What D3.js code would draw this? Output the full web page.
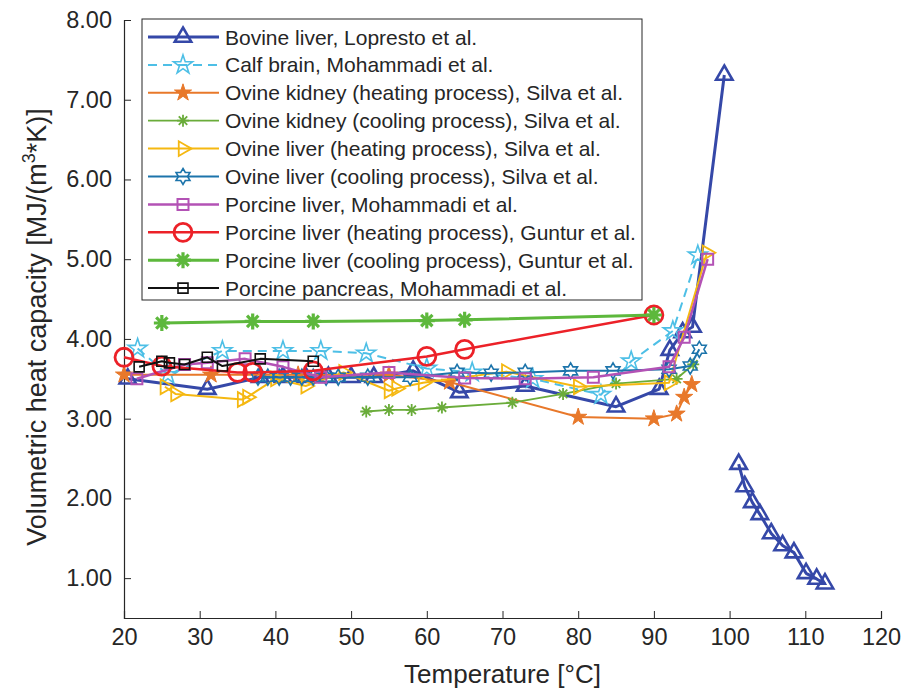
<!DOCTYPE html>
<html>
<head>
<meta charset="utf-8">
<script src="https://cdn.jsdelivr.net/npm/d3@7"></script>
<style>
  body { margin: 0; background: #fff; }
  text { font-family: "Liberation Sans", Arial, Helvetica, sans-serif; fill: #262626; }
</style>
</head>
<body>
<svg id="chart" width="903" height="690"></svg>
<script>
'use strict';

// tick values
var xTicks = [20, 30, 40, 50, 60, 70, 80, 90, 100, 110, 120];
var yTicks = [1, 2, 3, 4, 5, 6, 7, 8];

// series, [temperature, MJ/(m3*K)]
var bovineLiver = [[20.5, 3.50], [31, 3.37], [38, 3.52], [41, 3.52], [44, 3.52], [47, 3.52], [50, 3.52],
  [53, 3.52], [58.2, 3.60], [64.3, 3.33], [73, 3.41], [85, 3.15], [90.7, 3.37], [92.1, 3.86], [93.8, 4.08],
  [95.1, 4.15], [99.3, 7.31]];
var bovineLiverTail = [[101.2, 2.43], [102, 2.15], [103, 1.95], [104, 1.80], [105.5, 1.56], [107, 1.41],
  [108.5, 1.32], [110.1, 1.06], [111.5, 0.99], [112.6, 0.93]];
var calfBrain = [[21.8, 3.88], [25.8, 3.55], [33, 3.85], [41, 3.85], [46, 3.85], [52, 3.82], [60, 3.63],
  [66, 3.58], [74, 3.50], [83, 3.30], [87, 3.72], [92.5, 4.10], [95.8, 5.05]];
var ovineKidneyHeating = [[20, 3.55], [31.5, 3.55], [43, 3.55], [55, 3.55], [63, 3.46], [80, 3.02],
  [90, 3.00], [93, 3.06], [94, 3.27], [95, 3.43]];
var ovineKidneyCooling = [[52, 3.09], [55, 3.11], [58, 3.11], [62, 3.14], [71.3, 3.20], [78, 3.31],
  [85, 3.44], [93, 3.50], [95.2, 3.68]];
var ovineLiverHeating = [[25.4, 3.40], [26.8, 3.31], [35.6, 3.24], [36.3, 3.27], [40, 3.50], [44, 3.41],
  [49, 3.58], [55, 3.35], [56, 3.38], [59.5, 3.45], [70.5, 3.59], [80, 3.40], [92, 3.45], [97, 5.08]];
var ovineLiverCooling = [[37.7, 3.52], [39, 3.52], [40.5, 3.52], [42, 3.52], [43.5, 3.52], [45, 3.52],
  [46.7, 3.52], [48.3, 3.52], [52.2, 3.52], [57.8, 3.52], [64, 3.58], [68.5, 3.57], [73, 3.58], [79, 3.60],
  [84.6, 3.60], [92, 3.62], [94.8, 3.66], [96, 3.87]];
var porcineLiverMoh = [[21.7, 3.50], [28, 3.68], [31, 3.70], [36, 3.75], [41, 3.65], [46, 3.52], [55, 3.58],
  [65, 3.51], [73, 3.50], [82, 3.52], [92, 3.65], [94, 4.02], [97.1, 5.00]];
var porcineLiverHeating = [[20, 3.77], [25, 3.66], [35, 3.58], [37, 3.58], [45, 3.60], [60, 3.78],
  [65, 3.87], [90, 4.30]];
var porcineLiverCooling = [[25, 4.20], [37, 4.22], [45, 4.22], [60, 4.23], [65, 4.24], [90, 4.30]];
var porcinePancreas = [[22, 3.65], [25, 3.72], [26, 3.70], [28, 3.68], [31, 3.77], [33, 3.66], [38, 3.75],
  [45, 3.72]];

var labels = ['Bovine liver, Lopresto et al.', 'Calf brain, Mohammadi et al.',
  'Ovine kidney (heating process), Silva et al.', 'Ovine kidney (cooling process), Silva et al.',
  'Ovine liver (heating process), Silva et al.', 'Ovine liver (cooling process), Silva et al.',
  'Porcine liver, Mohammadi et al.', 'Porcine liver (heating process), Guntur et al.',
  'Porcine liver (cooling process), Guntur et al.', 'Porcine pancreas, Mohammadi et al.'];

var series = [
  {parts: [bovineLiver, bovineLiverTail], color: '#3548a8', lw: 3, marker: 'triangle', ms: 9.5, mw: 2.6},
  {parts: [calfBrain], color: '#4dbfe6', lw: 2, dash: '9,6', marker: 'pentagram', ms: 10, mw: 1.6},
  {parts: [ovineKidneyHeating], color: '#e8782a', lw: 2, marker: 'pentagram', ms: 9, mw: 1, fill: true},
  {parts: [ovineKidneyCooling], color: '#6aac3a', lw: 1.8, marker: 'asterisk', ms: 6, mw: 1.8},
  {parts: [ovineLiverHeating], color: '#f5b811', lw: 2, marker: 'right', ms: 8.5, mw: 1.8},
  {parts: [ovineLiverCooling], color: '#1c74ab', lw: 2, marker: 'hexagram', ms: 8, mw: 1.6},
  {parts: [porcineLiverMoh], color: '#b352b5', lw: 2.5, marker: 'square', ms: 5.5, mw: 2},
  {parts: [porcineLiverHeating], color: '#ec2128', lw: 2.5, marker: 'circle', ms: 9, mw: 2.8},
  {parts: [porcineLiverCooling], color: '#5db83c', lw: 3, marker: 'asterisk', ms: 8, mw: 3.2},
  {parts: [porcinePancreas], color: '#111111', lw: 2, marker: 'square', ms: 5, mw: 1.6}
];

var margin = {left: 124, top: 20, right: 22, bottom: 72};
var W = 903, H = 690;

var svg = d3.select('#chart');

var x = d3.scaleLinear().domain([20, 120]).range([margin.left, W - margin.right]);
var y = d3.scaleLinear().domain([0.5, 8]).range([H - margin.bottom, margin.top]);

// marker shapes
function starPath(n, ro, ri, rot) {
  var pts = [];
  for (var k = 0; k < 2 * n; k++) {
    var r = k % 2 ? ri : ro;
    var a = rot + k * Math.PI / n;
    pts.push([r * Math.sin(a), -r * Math.cos(a)]);
  }
  return 'M' + pts.map(function (p) { return p[0].toFixed(2) + ',' + p[1].toFixed(2); }).join('L') + 'Z';
}
function markerPath(type, s) {
  if (type === 'triangle') return starPath(3, s, s * 0.5, 0);
  if (type === 'right') return starPath(3, s, s * 0.5, Math.PI / 2);
  if (type === 'pentagram') return starPath(5, s, s * 0.382, 0);
  if (type === 'hexagram') return starPath(6, s, s * 0.577, 0);
  if (type === 'square') return 'M' + (-s) + ',' + (-s) + 'H' + s + 'V' + s + 'H' + (-s) + 'Z';
  if (type === 'circle') return d3.symbol(d3.symbolCircle, Math.PI * s * s)();
  if (type === 'asterisk') {
    var d = '', h = s * 0.7071;
    d += 'M' + (-s) + ',0H' + s + 'M0,' + (-s) + 'V' + s;
    d += 'M' + (-h) + ',' + (-h) + 'L' + h + ',' + h + 'M' + (-h) + ',' + h + 'L' + h + ',' + (-h);
    return d;
  }
}

// axes
var xAxis = d3.axisBottom(x).tickValues(xTicks).tickSize(-7).tickPadding(10).tickFormat(d3.format('d'));
var yAxis = d3.axisLeft(y).tickValues(yTicks).tickSize(-7).tickPadding(12).tickFormat(d3.format('.2f'));

var gx = svg.append('g').attr('transform', 'translate(0,' + y.range()[0] + ')').call(xAxis);
var gy = svg.append('g').attr('transform', 'translate(' + x.range()[0] + ',0)').call(yAxis);
[gx, gy].forEach(function (g) {
  g.select('.domain').attr('stroke', '#262626').attr('stroke-width', 1.2);
  g.selectAll('.tick line').attr('stroke', '#262626').attr('stroke-width', 1);
  g.selectAll('.tick text').attr('font-size', '23.5px').attr('fill', '#262626')
    .style('font-family', '"Liberation Sans", Arial, sans-serif');
});

// axis titles
svg.append('text')
  .attr('x', (x.range()[0] + x.range()[1]) / 2)
  .attr('y', 683)
  .attr('text-anchor', 'middle')
  .attr('font-size', '26px')
  .text('Temperature [\u00b0C]');

var yt = svg.append('text')
  .attr('transform', 'translate(46,' + ((y.range()[0] + y.range()[1]) / 2 + 8) + ') rotate(-90)')
  .attr('text-anchor', 'middle')
  .attr('font-size', '27px');
yt.append('tspan').text('Volumetric heat capacity [MJ/(m');
yt.append('tspan').attr('font-size', '18px').attr('dy', -11).text('3');
yt.append('tspan').attr('dy', 11).text('*K)]');

// lines and markers
var line = d3.line().x(function (d) { return x(d[0]); }).y(function (d) { return y(d[1]); });

series.forEach(function (s) {
  var g = svg.append('g');
  s.parts.forEach(function (pts) {
    g.append('path')
      .datum(pts)
      .attr('d', line)
      .attr('fill', 'none')
      .attr('stroke', s.color)
      .attr('stroke-width', s.lw)
      .attr('stroke-dasharray', s.dash || null)
      .attr('stroke-linejoin', 'round');
    g.selectAll(null)
      .data(pts)
      .enter()
      .append('path')
      .attr('transform', function (d) { return 'translate(' + x(d[0]) + ',' + y(d[1]) + ')'; })
      .attr('d', markerPath(s.marker, s.ms))
      .attr('fill', s.fill ? s.color : 'none')
      .attr('stroke', s.color)
      .attr('stroke-width', s.mw)
      .attr('stroke-linejoin', 'miter');
  });
});

// legend
var lg = svg.append('g');
lg.append('rect')
  .attr('x', 142).attr('y', 19).attr('width', 500).attr('height', 281)
  .attr('fill', '#fff').attr('stroke', '#262626').attr('stroke-width', 1);

series.forEach(function (s, i) {
  var ly = 37 + i * 27.9;
  var row = lg.append('g').attr('transform', 'translate(0,' + ly + ')');
  row.append('line')
    .attr('x1', 148).attr('x2', 219)
    .attr('stroke', s.color).attr('stroke-width', s.lw)
    .attr('stroke-dasharray', s.dash || null);
  row.append('path')
    .attr('transform', 'translate(183,0)')
    .attr('d', markerPath(s.marker, s.ms))
    .attr('fill', s.fill ? s.color : 'none')
    .attr('stroke', s.color)
    .attr('stroke-width', s.mw);
  row.append('text')
    .attr('x', 225).attr('y', 7.5)
    .attr('font-size', '21px')
    .text(labels[i]);
});
</script>
</body>
</html>
